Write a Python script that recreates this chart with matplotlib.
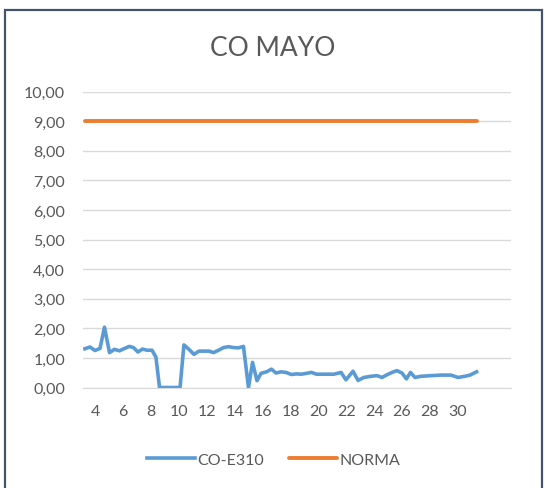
import matplotlib
matplotlib.use("Agg")
import matplotlib.pyplot as plt
from matplotlib.patches import Rectangle

plt.rcParams['font.family'] = ['Lato', 'DejaVu Sans']

# CO readings for May (x = day of month, several readings per day)
dias = [3.26, 3.62, 3.98, 4.34, 4.66, 5.02, 5.38, 5.74, 6.09, 6.45, 6.74, 7.06,
        7.39, 7.71, 8.07, 8.35, 8.61, 9.00, 9.36, 9.72, 10.08, 10.36, 10.72,
        11.08, 11.44, 11.80, 12.16, 12.48, 12.84, 13.20, 13.56, 13.91, 14.27,
        14.63, 14.99, 15.28, 15.60, 15.89, 16.28, 16.64, 16.96, 17.32, 17.68,
        18.07, 18.43, 18.79, 19.15, 19.51, 19.87, 20.26, 20.69, 21.12, 21.63,
        21.98, 22.49, 22.85, 23.27, 23.77, 24.21, 24.57, 24.92, 25.28, 25.64,
        26.00, 26.32, 26.61, 26.93, 27.36, 28.08, 28.80, 29.51, 30.02, 30.52,
        30.88, 31.35]
co_e310 = [1.31, 1.37, 1.25, 1.32, 2.04, 1.18, 1.29, 1.24, 1.32, 1.39, 1.35, 1.20,
           1.30, 1.26, 1.26, 1.03, 0.00, 0.00, 0.00, 0.00, 0.00, 1.44, 1.29,
           1.12, 1.23, 1.23, 1.23, 1.18, 1.26, 1.35, 1.38, 1.35, 1.34,
           1.39, 0.00, 0.85, 0.23, 0.48, 0.53, 0.62, 0.49, 0.53, 0.51,
           0.44, 0.46, 0.45, 0.48, 0.51, 0.45, 0.45, 0.45, 0.45, 0.51,
           0.26, 0.55, 0.24, 0.34, 0.38, 0.40, 0.34, 0.43, 0.51, 0.57,
           0.49, 0.29, 0.51, 0.34, 0.38, 0.40, 0.42, 0.42, 0.34, 0.38,
           0.42, 0.53]
norma_dias = [3.26, 31.35]
norma = [9.0, 9.0]

y_ticks = [0, 1, 2, 3, 4, 5, 6, 7, 8, 9, 10]
x_ticks = list(range(4, 31, 2))

gris = '#595959'

fig = plt.figure(figsize=(5.45, 4.89), dpi=100)
ax = fig.add_axes([0.1523, 0.2055, 0.7853, 0.6049])

ax.plot(dias, co_e310, color='#5B9BD5', lw=2.6, label='CO-E310', solid_joinstyle='round')
ax.plot(norma_dias, norma, color='#ED7D31', lw=2.8, label='NORMA', solid_capstyle='round')

ax.set_ylim(0, 10)
ax.set_xlim(3.12, 33.82)
ax.set_yticks(y_ticks)
ax.set_yticklabels([f'{v:.2f}'.replace('.', ',') for v in y_ticks])
ax.set_xticks(x_ticks)
ax.grid(axis='y', color='#D9D9D9', lw=1)
ax.set_axisbelow(True)
for s in ['top', 'right', 'left']:
    ax.spines[s].set_visible(False)
ax.spines['bottom'].set_color('#D9D9D9')
ax.tick_params(length=0, labelsize=11.5, labelcolor=gris)
ax.tick_params(axis='y', pad=13)
ax.tick_params(axis='x', pad=12)

fig.text(0.501, 0.900, 'CO MAYO', ha='center', va='center', fontsize=19, color=gris)

fig.legend(loc='center', bbox_to_anchor=(0.502, 0.058), ncol=2, frameon=False,
           fontsize=11.5, handlelength=3.0, handletextpad=0.15, columnspacing=1.6,
           labelcolor=gris)

# chart border
fig.patches.append(Rectangle((5 / 545, -0.02), 536.5 / 545, 0.9975, transform=fig.transFigure,
                             fill=False, edgecolor='#44546A', lw=1.6))

fig.savefig('out.png', dpi=100)
